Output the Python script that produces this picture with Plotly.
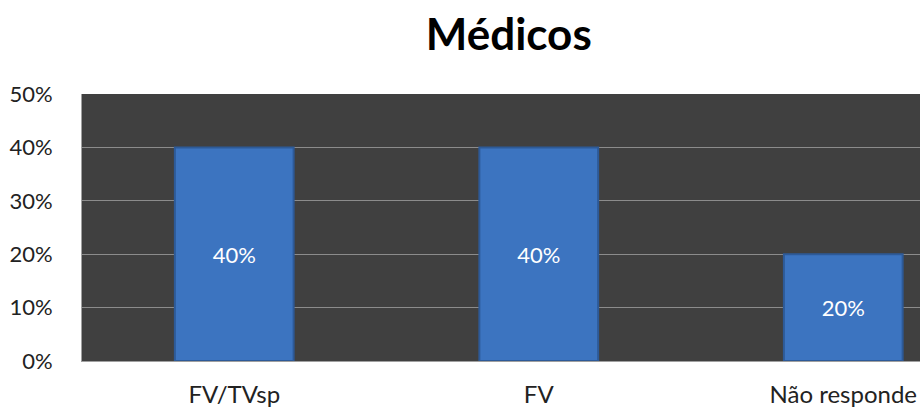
import plotly.graph_objects as go

categories = ["FV/TVsp", "FV", "Não responde"]
values = [0.40, 0.40, 0.20]
labels = ["40%", "40%", "20%"]
tick_vals = [0, 0.1, 0.2, 0.3, 0.4, 0.5]
tick_text = ["0%", "10%", "20%", "30%", "40%", "50%"]

FONT = "Lato"

fig = go.Figure()
fig.add_trace(go.Bar(
    x=categories, y=values, text=labels,
    textposition="inside", insidetextanchor="middle",
    textfont=dict(family=FONT, size=22, color="white"),
    marker=dict(color="#3c74c0", line=dict(color="#2d5a98", width=2)),
    width=0.39,
))

fig.update_layout(
    width=920, height=408,
    margin=dict(l=82, r=0, t=94, b=47),
    paper_bgcolor="white",
    plot_bgcolor="#404040",
    showlegend=False,
    title=dict(text="<b>Médicos</b>", x=0.553, xanchor="center", y=0.915, yanchor="middle",
               font=dict(family=FONT, size=44, color="black")),
    xaxis=dict(range=[-0.5, 2.252], showgrid=False, tickfont=dict(family=FONT, size=24, color="#222"),
               ticks="", showline=True, linecolor="#a0a0a0", linewidth=1,
               ticklabelstandoff=12, automargin=False),
    yaxis=dict(range=[0, 0.5], tickvals=tick_vals, ticktext=tick_text,
               tickfont=dict(family=FONT, size=22, color="#222"),
               gridcolor="#8c8c8c", gridwidth=1, zeroline=False,
               showline=True, linecolor="#a0a0a0", linewidth=1, mirror=True, ticks="",
               ticklabelstandoff=24, automargin=False),
)

fig.write_html("out.html")
